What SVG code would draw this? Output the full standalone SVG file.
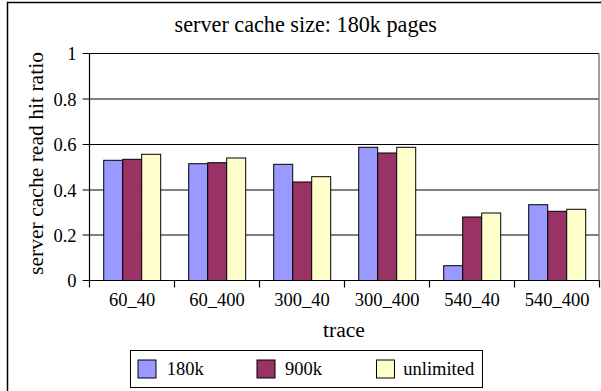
<svg xmlns="http://www.w3.org/2000/svg" width="601" height="391" viewBox="0 0 601 391" font-family="'Liberation Serif', 'Times New Roman', 'DejaVu Serif', serif">
<style>
text{font-family:'Liberation Serif','Times New Roman','DejaVu Serif',serif;fill:#000}
.tk{font-size:18.5px}
.ax{font-size:21.6px}
.grid{stroke:#000;stroke-width:1;fill:none}
.b{stroke:#000;stroke-width:1}
.s1{fill:#9999FF}.s2{fill:#993366}.s3{fill:#FFFFCC}
</style>
<rect x="0" y="0" width="601" height="391" fill="#fff"/>
<g id="frame"><path d="M7.5 400 V2.5 H610" fill="none" stroke="#000" stroke-width="1.5"/></g>
<text id="title" x="305.8" y="32" text-anchor="middle" font-size="22.2">server cache size: 180k pages</text>
<g id="plot">
<path class="grid" d="M89.5 53.5 H599 M89.5 99 H599 M89.5 144.5 H599 M89.5 190 H599 M89.5 235 H599"/>
<path d="M599 53.5 V280.5" stroke="#808080" stroke-width="1.5" fill="none"/>
</g>
<g id="bars">
<rect class="b s1" x="103.7" y="160.3" width="19" height="120.2"/><rect class="b s2" x="122.7" y="159.3" width="19" height="121.2"/><rect class="b s3" x="141.7" y="154.3" width="19" height="126.2"/>
<rect class="b s1" x="188.7" y="163.7" width="19" height="116.8"/><rect class="b s2" x="207.7" y="162.7" width="19" height="117.8"/><rect class="b s3" x="226.7" y="158" width="19" height="122.5"/>
<rect class="b s1" x="273.7" y="164.3" width="19" height="116.2"/><rect class="b s2" x="292.7" y="182" width="19" height="98.5"/><rect class="b s3" x="311.7" y="176.7" width="19" height="103.8"/>
<rect class="b s1" x="358.7" y="147.3" width="19" height="133.2"/><rect class="b s2" x="377.7" y="153" width="19" height="127.5"/><rect class="b s3" x="396.7" y="147.3" width="19" height="133.2"/>
<rect class="b s1" x="443.7" y="265.7" width="19" height="14.8"/><rect class="b s2" x="462.7" y="217" width="19" height="63.5"/><rect class="b s3" x="481.7" y="213" width="19" height="67.5"/>
<rect class="b s1" x="528.7" y="204.7" width="19" height="75.8"/><rect class="b s2" x="547.7" y="211.3" width="19" height="69.2"/><rect class="b s3" x="566.7" y="209.3" width="19" height="71.2"/>
</g>
<g id="axes" stroke="#000" stroke-width="1.2" fill="none">
<path d="M89.5 53.5 V280.5 H599.5"/>
<path d="M82.5 53.5 H89.5 M82.5 99 H89.5 M82.5 144.5 H89.5 M82.5 190 H89.5 M82.5 235 H89.5 M82.5 280.5 H89.5"/>
<path d="M89.5 280.5 V287.5 M174.5 280.5 V287.5 M259.5 280.5 V287.5 M344.5 280.5 V287.5 M429.5 280.5 V287.5 M514.5 280.5 V287.5 M599.5 280.5 V287.5"/>
</g>
<g id="ylabels" class="tk" text-anchor="end">
<text x="76.5" y="60">1</text>
<text x="76.5" y="105.5">0.8</text>
<text x="76.5" y="151">0.6</text>
<text x="76.5" y="196.5">0.4</text>
<text x="76.5" y="241.5">0.2</text>
<text x="76.5" y="287">0</text>
</g>
<g id="xlabels" class="tk" text-anchor="middle">
<text x="132" y="306">60_40</text>
<text x="217" y="306">60_400</text>
<text x="302" y="306">300_40</text>
<text x="387" y="306">300_400</text>
<text x="472" y="306">540_40</text>
<text x="557" y="306">540_400</text>
</g>
<text id="xtitle" class="ax" x="344" y="337" text-anchor="middle">trace</text>
<text id="ytitle" class="ax" transform="translate(43 163.5) rotate(-90)" text-anchor="middle">server cache read hit ratio</text>
<g id="legend">
<rect x="130.5" y="350.5" width="352" height="37" fill="#fff" stroke="#000" stroke-width="1"/>
<rect class="b s1" x="138" y="360" width="18" height="18"/>
<text class="tk" x="166.7" y="375">180k</text>
<rect class="b s2" x="257" y="360" width="18" height="18"/>
<text class="tk" x="285" y="375">900k</text>
<rect class="b s3" x="376.5" y="360" width="18" height="18"/>
<text class="tk" x="403.3" y="375">unlimited</text>
</g>
</svg>
